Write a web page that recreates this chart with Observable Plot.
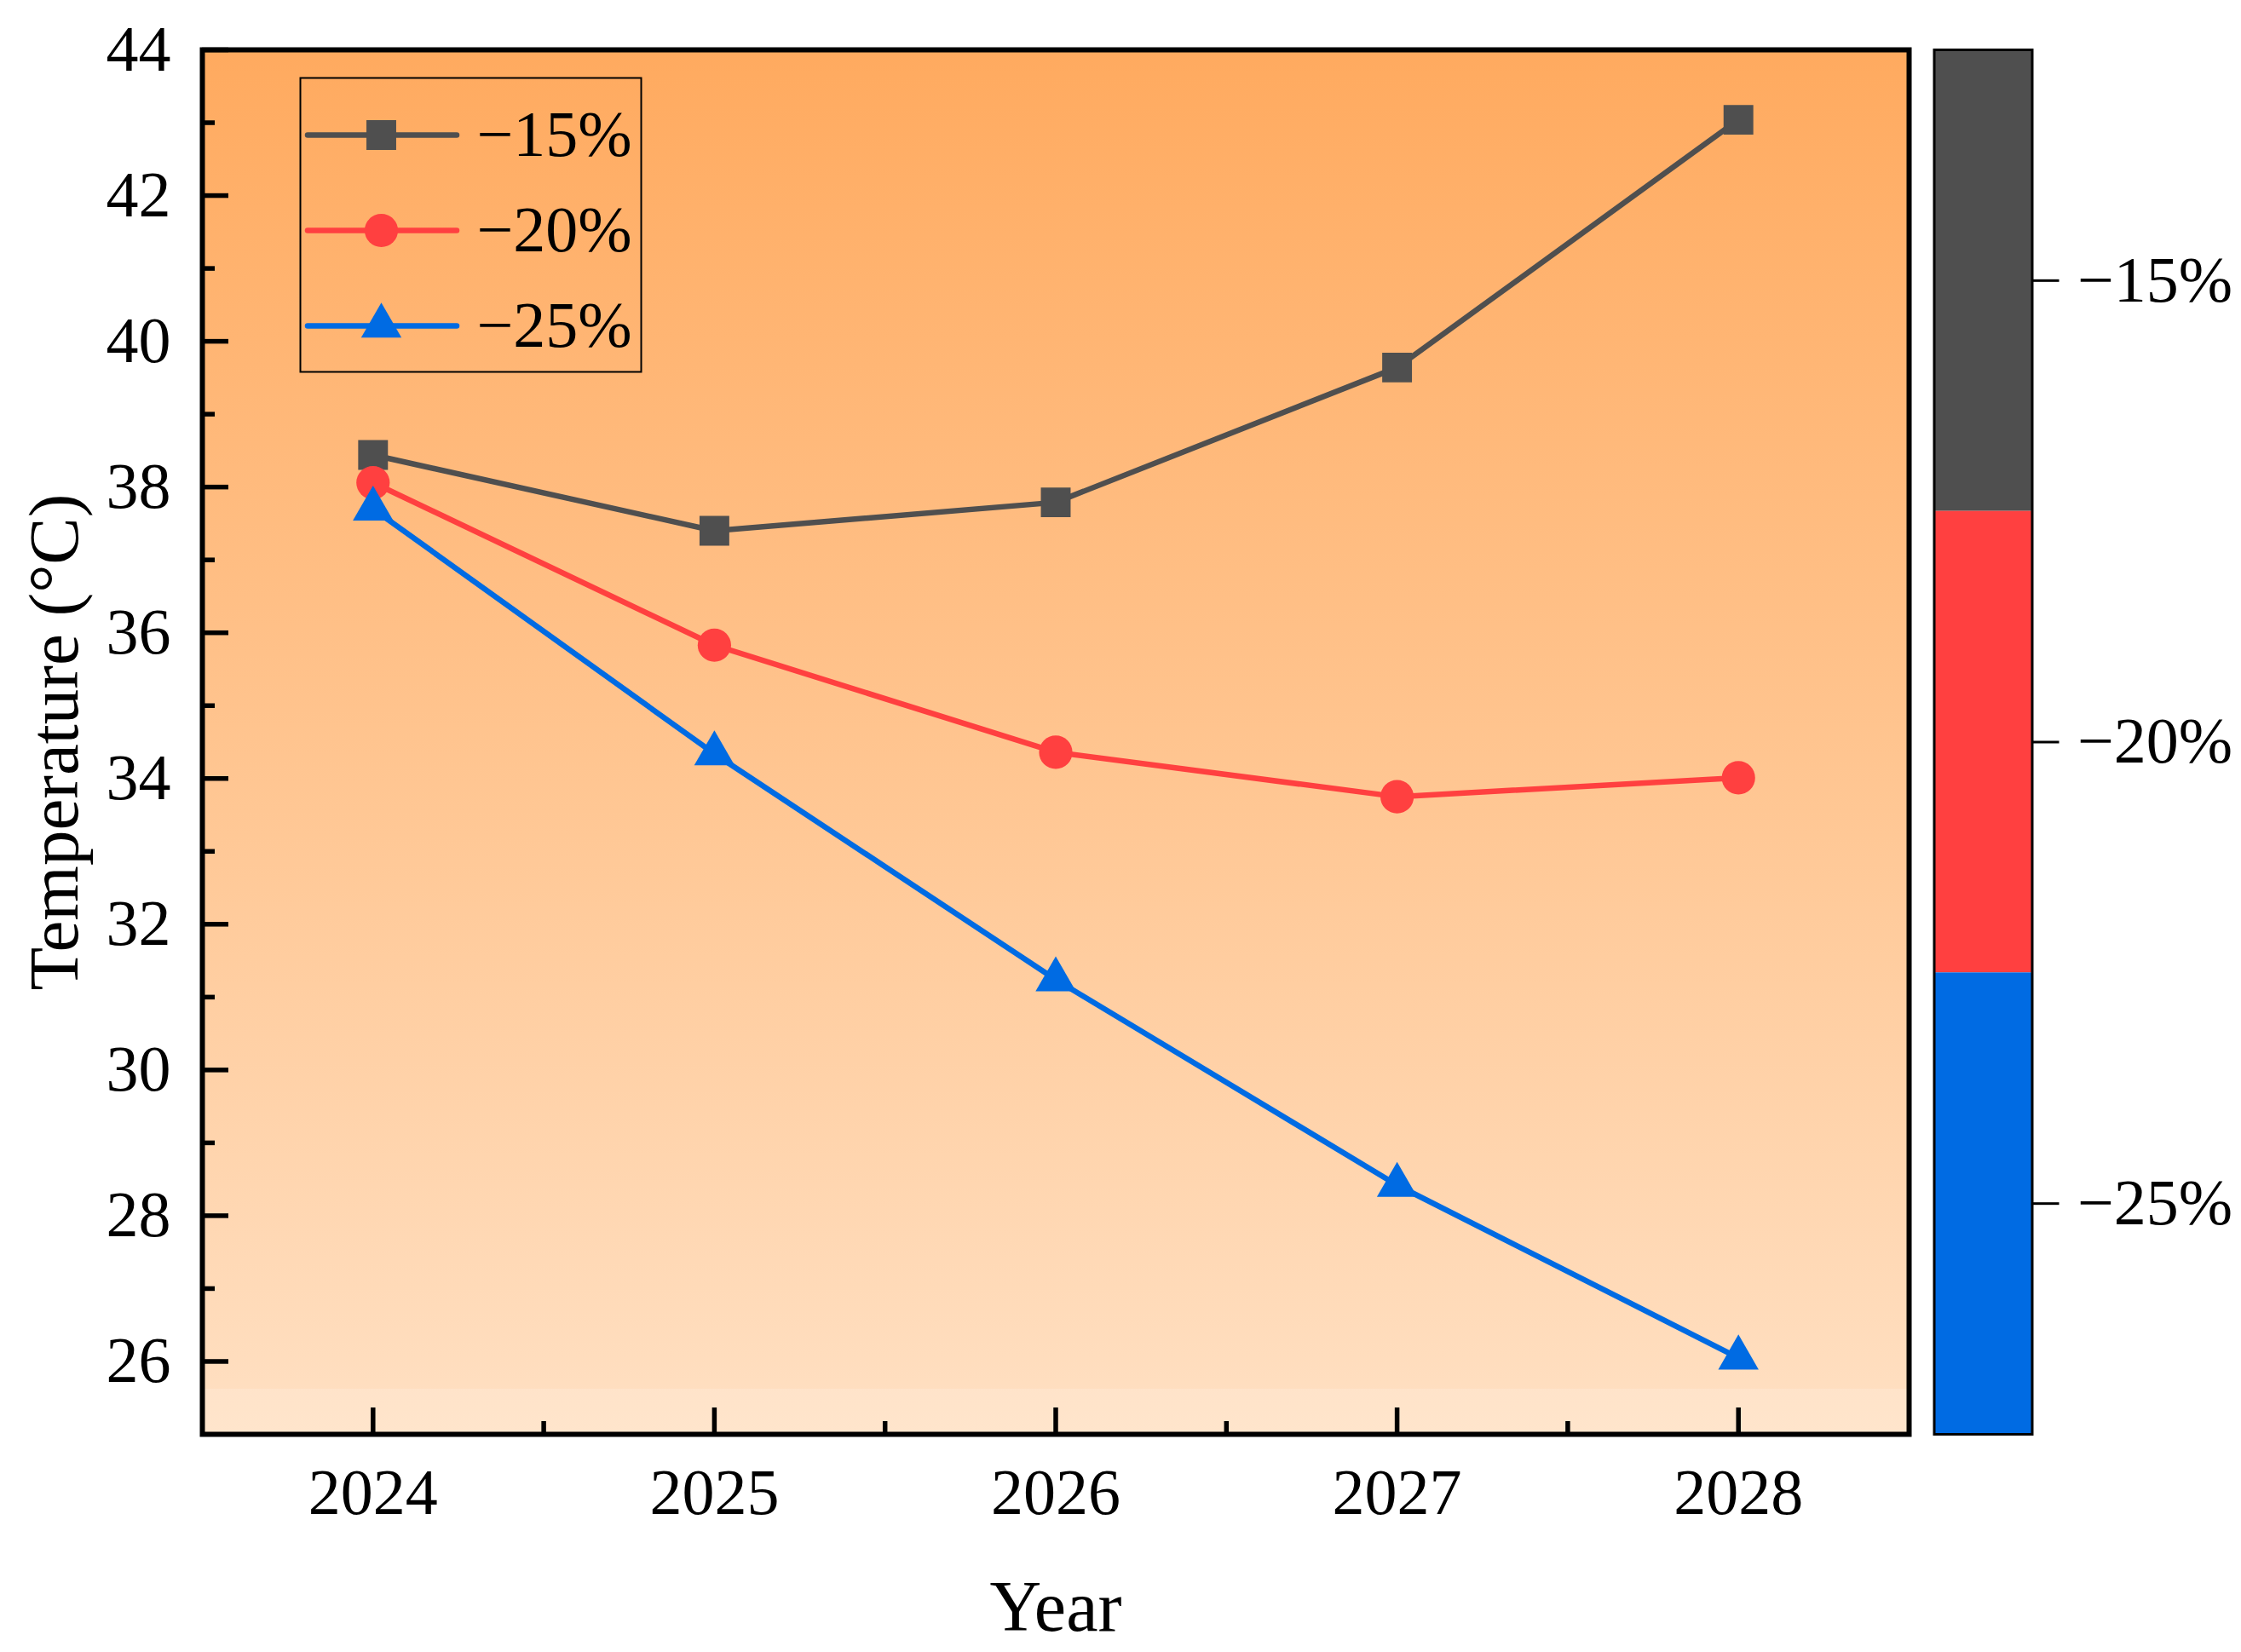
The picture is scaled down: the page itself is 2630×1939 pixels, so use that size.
<!DOCTYPE html>
<html>
<head>
<meta charset="utf-8">
<script src="https://cdn.jsdelivr.net/npm/d3@7"></script>
<script src="https://cdn.jsdelivr.net/npm/@observablehq/plot@0.6"></script>
<style>
  html, body { margin: 0; padding: 0; background: #ffffff; overflow: hidden; }
  #wrap { position: relative; width: 2630px; height: 1939px; }
  #wrap svg { position: absolute; left: 0; top: 0; max-width: none; }
</style>
</head>
<body>
<div id="wrap"></div>
<script>
// ---------------- data ----------------
const years = [2024, 2025, 2026, 2027, 2028];
const seriesNames = ["\u221215%", "\u221220%", "\u221225%"];
const seriesColors = ["#4f4f4f", "#ff4040", "#006be3"];
const seriesSymbols = ["square", "circle", "triangle"];
const values15 = [38.44, 37.40, 37.79, 39.64, 43.04];
const values20 = [38.06, 35.83, 34.36, 33.75, 34.01];
const values25 = [37.70, 34.34, 31.24, 28.42, 26.05];
const seriesValues = [values15, values20, values25];
const yMajor = [26, 28, 30, 32, 34, 36, 38, 40, 42, 44];
const yMinor = [27, 29, 31, 33, 35, 37, 39, 41, 43];
const xMinor = [2024.5, 2025.5, 2026.5, 2027.5];
const xDomain = [2023.5, 2028.5];
const yDomain = [25, 44];

// ---------------- layout ----------------
const W = 2630, H = 1939;
const mL = 237, mR = 390, mT = 58, mB = 256;
const frameW = W - mL - mR, frameH = H - mT - mB;
const FONT = "'Liberation Serif', 'Times New Roman', Times, serif";
const baseStyle = {fontFamily: FONT, fontSize: "76px", color: "black", background: "transparent", overflow: "visible"};
const symR = {square: 19.7, circle: 19.6, triangle: 17.6};
const LW = 6.5;

const tables = seriesNames.map((name, i) => years.map((year, j) => ({year, value: seriesValues[i][j], series: name})));

// gradient background of the plotting area
function background(index, scales, values, dims) {
  const g = d3.create("svg:g");
  const grad = g.append("defs").append("linearGradient")
    .attr("id", "bgGrad").attr("x1", 0).attr("y1", 0).attr("x2", 0).attr("y2", 1);
  grad.append("stop").attr("offset", "0%").attr("stop-color", "#ffaa5f");
  grad.append("stop").attr("offset", "55%").attr("stop-color", "#ffc794");
  grad.append("stop").attr("offset", "100%").attr("stop-color", "#ffe0c3");
  const x0 = dims.marginLeft, y0 = dims.marginTop;
  const w = dims.width - dims.marginLeft - dims.marginRight;
  const h = dims.height - dims.marginTop - dims.marginBottom;
  g.append("rect").attr("x", x0).attr("y", y0).attr("width", w).attr("height", h).attr("fill", "url(#bgGrad)");
  g.append("rect").attr("x", x0).attr("y", y0 + h - 53).attr("width", w).attr("height", 53)
    .attr("fill", "#fff3e6").attr("opacity", 0.25);
  return g.node();
}

const seriesMarks = [];
tables.forEach((t, i) => {
  seriesMarks.push(Plot.line(t, {x: "year", y: "value", stroke: seriesColors[i], strokeWidth: LW}));
  seriesMarks.push(Plot.dot(t, {x: "year", y: "value", fill: seriesColors[i], stroke: "none",
    symbol: seriesSymbols[i], r: symR[seriesSymbols[i]]}));
});

const main = Plot.plot({
  width: W, height: H,
  marginLeft: mL, marginRight: mR, marginTop: mT, marginBottom: mB,
  style: baseStyle,
  x: {domain: xDomain},
  y: {domain: yDomain},
  marks: [
    background,
    Plot.ruleY(yMajor, {y: d => d, insetRight: frameW - 31, stroke: "black", strokeWidth: 5.5}),
    Plot.ruleY(yMinor, {y: d => d, insetRight: frameW - 15, stroke: "black", strokeWidth: 5.5}),
    Plot.ruleX(years, {x: d => d, insetTop: frameH - 31, stroke: "black", strokeWidth: 5.5}),
    Plot.ruleX(xMinor, {x: d => d, insetTop: frameH - 15, stroke: "black", strokeWidth: 5.5}),
    ...seriesMarks,
    Plot.frame({stroke: "black", strokeWidth: 6}),
    Plot.axisY({ticks: yMajor, tickSize: 0, tickPadding: 37, tickFormat: d => String(d), fontSize: 76, label: null}),
    Plot.axisX({ticks: years, tickSize: 0, tickPadding: 40, tickFormat: d => String(d), fontSize: 76, label: null}),
    Plot.text(["Year"], {text: d => d, frameAnchor: "bottom", dy: 230, lineAnchor: "bottom", fontSize: 84}),
    Plot.text(["Temperature (\u00B0C)"], {text: d => d, frameAnchor: "left", rotate: -90, dx: -147,
      lineAnchor: "bottom", textAnchor: "middle", fontSize: 83})
  ]
});

// colour bar on the right
const cbar = Plot.plot({
  width: W, height: H,
  marginLeft: 2269.5, marginRight: W - 2384.5, marginTop: mT, marginBottom: mB,
  style: baseStyle,
  y: {type: "band", domain: seriesNames, padding: 0, round: false},
  color: {domain: seriesNames, range: seriesColors},
  marks: [
    Plot.cell(seriesNames, {y: d => d, fill: d => d, inset: 0}),
    Plot.frame({stroke: "black", strokeWidth: 3}),
    Plot.axisY({anchor: "right", tickSize: 31, tickPadding: 22, strokeWidth: 3, fontSize: 76, label: null})
  ]
});

// legend box
const legMarks = [
  Plot.frame({stroke: "black", strokeWidth: 2})
];
seriesNames.forEach((name, i) => {
  legMarks.push(Plot.ruleY([name], {y: d => d, insetLeft: 9, insetRight: 216, stroke: seriesColors[i],
    strokeWidth: LW, strokeLinecap: "round"}));
  legMarks.push(Plot.dot([name], {y: d => d, dx: -105, fill: seriesColors[i], stroke: "none",
    symbol: seriesSymbols[i], r: symR[seriesSymbols[i]]}));
});
legMarks.push(Plot.text(seriesNames, {y: d => d, text: d => d, frameAnchor: "left", dx: 207,
  textAnchor: "start", lineAnchor: "middle", fontSize: 76}));

const legend = Plot.plot({
  width: W, height: H,
  marginLeft: 352, marginRight: W - 752, marginTop: 91, marginBottom: H - 436,
  style: baseStyle,
  y: {type: "point", domain: seriesNames, range: [158, 382], padding: 0, axis: null},
  marks: legMarks
});

const wrap = document.getElementById("wrap");
wrap.appendChild(main);
wrap.appendChild(cbar);
wrap.appendChild(legend);
</script>
</body>
</html>
